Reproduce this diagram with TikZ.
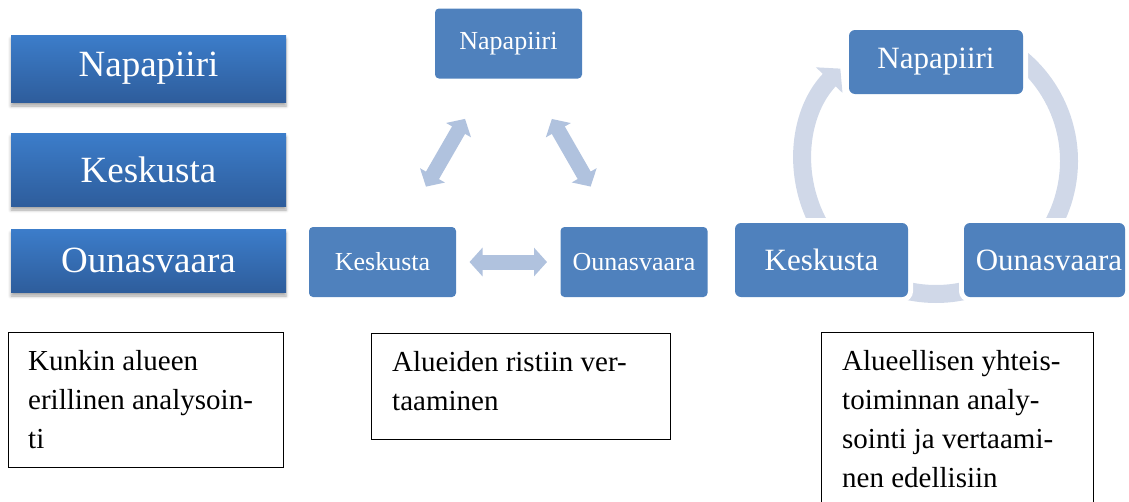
\documentclass[tikz,border=0pt]{standalone}
\usepackage{fontspec}
\setmainfont{Liberation Serif}
\usetikzlibrary{arrows.meta,shadows.blur}
\definecolor{boxblue}{HTML}{4F81BD}
\definecolor{gradtop}{HTML}{3C7DCA}
\definecolor{gradbot}{HTML}{2E5D9C}
\definecolor{arrowblue}{HTML}{B0C2DE}
\definecolor{cycleblue}{HTML}{D0D8E8}
\begin{document}
\begin{tikzpicture}[x=1pt,y=-1pt,
  gbox/.style={rectangle, top color=gradtop, bottom color=gradbot, text=white,
    font=\fontsize{37}{44}\selectfont, minimum width=275pt, inner sep=0pt,
    blur shadow={shadow xshift=0pt, shadow yshift=-4pt, shadow blur radius=3pt, shadow opacity=35}},
  mbox/.style={rectangle, rounded corners=4pt, fill=boxblue, text=white,
    font=\fontsize{26}{30}\selectfont, minimum width=147pt, minimum height=70pt, inner sep=0pt},
  rbox/.style={rectangle, rounded corners=6pt, fill=boxblue, text=white,
    preaction={draw=white, line width=10pt},
    font=\fontsize{31}{36}\selectfont, minimum height=74pt, inner sep=0pt},
  darrow/.style={draw=arrowblue, line width=15pt, shorten <=87pt, shorten >=87pt,
    {Triangle[width=28pt,length=13pt]}-{Triangle[width=28pt,length=13pt]}},
  cyc/.style={draw=cycleblue, line width=18pt},
  tbox/.style={rectangle, draw=black, line width=1.2pt, inner sep=0pt, anchor=north west},
  txt/.style={anchor=north west, align=left, inner sep=0pt, font=\fontsize{29}{39}\selectfont}
]
\useasboundingbox (0,0) rectangle (1129,501);

% left column
\node[gbox, minimum height=67pt] (lnap) at (148.5,68.5) {Napapiiri};
\node[gbox, minimum height=73pt] (lkes) at (148.5,169.5) {Keskusta};
\node[gbox, minimum height=63pt] (loun) at (148.5,260.5) {Ounasvaara};

% middle triangle
\node[mbox] (mnap) at (508.5,43.5) {Napapiiri};
\node[mbox] (mkes) at (382.5,262) {Keskusta};
\node[mbox] (moun) at (634,262) {Ounasvaara};
\draw[darrow] (mkes.center) -- (mnap.center);
\draw[darrow] (mnap.center) -- (moun.center);
\draw[darrow] (mkes.center) -- (moun.center);

% right cycle
\coordinate (cc) at (936,161);
\draw[cyc] ([shift={(-56:133)}]cc) arc[start angle=-56, end angle=40, radius=133];
\draw[cyc] ([shift={(55:133)}]cc) arc[start angle=55, end angle=125, radius=133];
\draw[cyc, -{Triangle[width=36pt,length=16pt]}] ([shift={(146:133)}]cc) arc[start angle=146, end angle=224, radius=133];
\node[rbox, minimum width=174pt, minimum height=64pt] (rnap) at (936,62) {Napapiiri};
\node[rbox, minimum width=173pt] (rkes) at (821.5,260) {Keskusta};
\node[rbox, minimum width=161pt] (roun) at (1044.5,260) {\hspace*{9pt}Ounasvaara};

% text boxes
\node[tbox, minimum width=275pt, minimum height=135pt] (t1) at (8,332) {};
\node[txt] (t1t) at (28,350) {Kunkin alueen\\erillinen analysoin-\\ti};
\node[tbox, minimum width=299pt, minimum height=106pt] (t2) at (371,333) {};
\node[txt] (t2t) at (392,351) {Alueiden ristiin ver-\\taaminen};
\node[tbox, minimum width=272pt, minimum height=185pt] (t3) at (821,332) {};
\node[txt] (t3t) at (842,350) {Alueellisen yhteis-\\toiminnan analy-\\sointi ja vertaami-\\nen edellisiin};
\end{tikzpicture}
\end{document}
